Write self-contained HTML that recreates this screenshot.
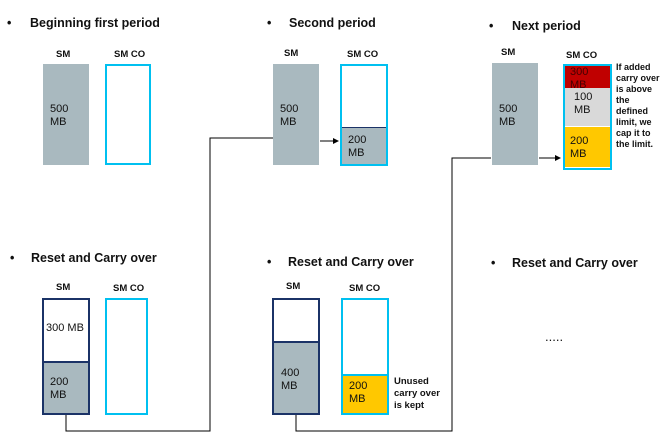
<!DOCTYPE html>
<html><head><style>
body{margin:0;width:664px;height:444px;background:#fff;position:relative;font-family:"Liberation Sans",sans-serif;overflow:hidden}
div{position:absolute;box-sizing:border-box}
.t{font-size:12.5px;font-weight:bold;color:#111;white-space:nowrap}
.l{font-size:9.5px;font-weight:bold;color:#111;white-space:nowrap}
.v{font-size:11px;color:#111;line-height:13px}
.gray{background:#a9b9bf}
.cy{border:2px solid #00c0f0}
.nv{border:2px solid #1b3367}
</style></head><body>
<svg width="664" height="444" style="position:absolute;left:0;top:0">
<defs><marker id="a" markerWidth="6" markerHeight="6" refX="5" refY="3" orient="auto"><path d="M0,0L6,3L0,6z" fill="#000"/></marker></defs>
<g stroke="#000" stroke-width="1" fill="none">
<path d="M66,414V431H210V138H273"/>
<path d="M296,414V431H452V158H491"/>
<path d="M320,141H338" marker-end="url(#a)"/>
<path d="M539,158H560" marker-end="url(#a)"/>
</g></svg>

<div class="t" style="left:7px;top:16px">•</div><div class="t" style="left:30px;top:16px">Beginning first period</div>
<div class="l" style="left:56px;top:49px">SM</div><div class="l" style="left:114px;top:49px">SM CO</div>
<div class="gray" style="left:43px;top:64px;width:46px;height:101px"></div>
<div class="v" style="left:50px;top:103px">500<br>MB</div>
<div class="cy" style="left:105px;top:64px;width:46px;height:101px"></div>

<div class="t" style="left:267px;top:16px">•</div><div class="t" style="left:289px;top:16px">Second period</div>
<div class="l" style="left:284px;top:48px">SM</div><div class="l" style="left:347px;top:49px">SM CO</div>
<div class="gray" style="left:273px;top:64px;width:46px;height:101px"></div>
<div class="v" style="left:280px;top:103px">500<br>MB</div>
<div class="cy" style="left:340px;top:64px;width:48px;height:102px"></div>
<div class="gray" style="left:342px;top:127px;width:44px;height:37px;border-top:1.5px solid #1b3367"></div>
<div class="v" style="left:348px;top:134px">200<br>MB</div>

<div class="t" style="left:489px;top:19px">•</div><div class="t" style="left:512px;top:19px">Next period</div>
<div class="l" style="left:501px;top:47px">SM</div><div class="l" style="left:566px;top:50px">SM CO</div>
<div class="gray" style="left:492px;top:63px;width:46px;height:102px"></div>
<div class="v" style="left:499px;top:103px">500<br>MB</div>
<div class="cy" style="left:563px;top:64px;width:49px;height:106px;background:#fff"></div>
<div style="left:565px;top:66px;width:45px;height:22px;background:#c00000"></div>
<div style="left:565px;top:88px;width:45px;height:38px;background:#d9d9d9"></div>
<div style="left:565px;top:127px;width:45px;height:40px;background:#ffc800"></div>
<div style="left:570px;top:66px;width:40px;height:22px;overflow:hidden;font-size:11px;line-height:13px;color:#400">300<br>MB</div>
<div class="v" style="left:574px;top:91px">100<br>MB</div>
<div class="v" style="left:570px;top:135px">200<br>MB</div>
<div style="left:616px;top:62px;font-size:9px;font-weight:bold;line-height:11px;color:#111">If added<br>carry over<br>is above<br>the<br>defined<br>limit, we<br>cap it to<br>the limit.</div>

<div class="t" style="left:10px;top:251px">•</div><div class="t" style="left:31px;top:251px">Reset and Carry over</div>
<div class="l" style="left:56px;top:282px">SM</div><div class="l" style="left:113px;top:283px">SM CO</div>
<div class="nv" style="left:42px;top:298px;width:48px;height:117px"></div>
<div class="gray" style="left:44px;top:361px;width:44px;height:52px;border-top:2px solid #1b3367"></div>
<div class="v" style="left:46px;top:322px">300 MB</div>
<div class="v" style="left:50px;top:376px">200<br>MB</div>
<div class="cy" style="left:105px;top:298px;width:43px;height:117px"></div>

<div class="t" style="left:267px;top:255px">•</div><div class="t" style="left:288px;top:255px">Reset and Carry over</div>
<div class="l" style="left:286px;top:281px">SM</div><div class="l" style="left:349px;top:283px">SM CO</div>
<div class="nv" style="left:272px;top:298px;width:48px;height:117px"></div>
<div class="gray" style="left:274px;top:341px;width:44px;height:72px;border-top:2px solid #1b3367"></div>
<div class="v" style="left:281px;top:367px">400<br>MB</div>
<div class="cy" style="left:341px;top:298px;width:48px;height:117px"></div>
<div style="left:343px;top:374px;width:44px;height:39px;background:#ffc800;border-top:2px solid #00c0f0"></div>
<div class="v" style="left:349px;top:380px">200<br>MB</div>
<div style="left:394px;top:376px;font-size:9.5px;font-weight:bold;line-height:12px;color:#111">Unused<br>carry over<br>is kept</div>

<div class="t" style="left:491px;top:256px">•</div><div class="t" style="left:512px;top:256px">Reset and Carry over</div>
<div style="left:545px;top:329px;font-size:13px;color:#111">.....</div>
</body></html>
